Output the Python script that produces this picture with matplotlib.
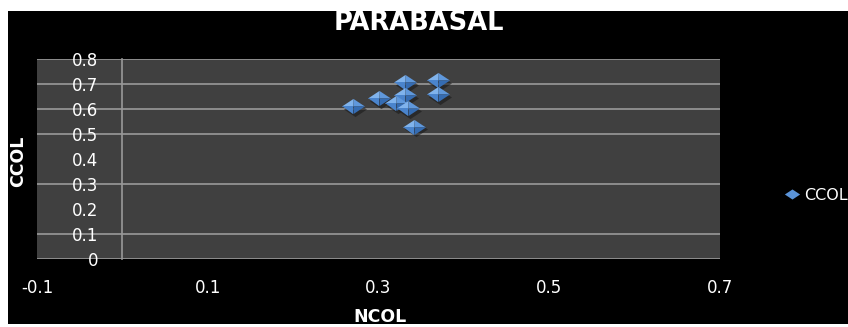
import matplotlib
matplotlib.use("Agg")
import matplotlib.pyplot as plt
import matplotlib.transforms as mtransforms
from matplotlib.path import Path
from matplotlib.lines import Line2D
from matplotlib.patches import Rectangle

# NCOL / CCOL measurements for the parabasal cells
ncol = [0.270, 0.301, 0.331, 0.370, 0.370, 0.331, 0.321, 0.335, 0.341]
ccol = [0.613, 0.644, 0.708, 0.717, 0.660, 0.657, 0.624, 0.604, 0.530]

x_ticks = [-0.1, 0.1, 0.3, 0.5, 0.7]
x_tick_labels = ["-0.1", "0.1", "0.3", "0.5", "0.7"]
y_ticks = [0, 0.1, 0.2, 0.3, 0.4, 0.5, 0.6, 0.7, 0.8]
y_tick_labels = ["0", "0.1", "0.2", "0.3", "0.4", "0.5", "0.6", "0.7", "0.8"]

title = "PARABASAL"
x_label = "NCOL"
y_label = "CCOL"
series_name = "CCOL"

W, H = 848, 327
fig = plt.figure(figsize=(W / 100, H / 100), dpi=100, facecolor="white")

# black chart area with thin white margins
fig.patches.append(Rectangle((8 / W, 3 / H), 1 - 8 / W, 1 - 14 / H,
                             transform=fig.transFigure, facecolor="black",
                             edgecolor="none", zorder=-10))

left, right, top, bottom = 37, 720, 59.3, 259.3
ax = fig.add_axes([left / W, 1 - bottom / H, (right - left) / W, (bottom - top) / H])
ax.set_zorder(1)
ax.set_facecolor("#404040")
ax.set_xlim(-0.1, 0.7)
ax.set_ylim(0, 0.8)

grid_col = "#999999"
for yv in [0, 0.1, 0.3, 0.5, 0.6, 0.7, 0.8]:
    ax.axhline(yv, color=grid_col, lw=1.2, zorder=1)
for s in ["top", "right", "bottom"]:
    ax.spines[s].set_visible(False)
ax.spines["left"].set_position(("data", 0))
ax.spines["left"].set_color(grid_col)
ax.spines["left"].set_linewidth(1.2)

ax.set_xticks(x_ticks)
ax.set_xticklabels(x_tick_labels)
ax.set_yticks(y_ticks)
ax.set_yticklabels(y_tick_labels)
ax.tick_params(axis="x", length=0, pad=14.5, colors="white", labelsize=12)
ax.tick_params(axis="y", length=0, pad=17.5, colors="white", labelsize=12)
for lab in ax.get_xticklabels() + ax.get_yticklabels():
    lab.set_family("DejaVu Sans")

# bevelled diamond marker built from four facets around a raised centre
h = 0.66
facets = [
    ([(-1, 0), (0, h), (0, 0), (-1, 0)], "#80b3ec"),
    ([(0, 0), (0, h), (1, 0), (0, 0)], "#5f98dc"),
    ([(-1, 0), (0, 0), (0, -h), (-1, 0)], "#4a84cc"),
    ([(0, 0), (1, 0), (0, -h), (0, 0)], "#356cb2"),
]
codes = [Path.MOVETO, Path.LINETO, Path.LINETO, Path.CLOSEPOLY]
full = Path([(-1, 0), (0, h), (1, 0), (0, -h), (-1, 0)],
            [Path.MOVETO, Path.LINETO, Path.LINETO, Path.LINETO, Path.CLOSEPOLY])
msize = 16.5

shadow_tr = mtransforms.offset_copy(ax.transData, fig=fig, x=2, y=-2.5, units="dots")
ax.plot(ncol, ccol, ls="none", marker=full, markersize=msize, color="#1a1a1a",
        alpha=0.6, markeredgewidth=0, transform=shadow_tr, zorder=3)
for i in range(len(ncol)):
    for verts, col in facets:
        ax.plot([ncol[i]], [ccol[i]], ls="none", marker=Path(verts, codes),
                markersize=msize, color=col, markeredgewidth=0, zorder=4 + i)

fig.text(419 / W, 1 - 30 / H, title, color="white", fontsize=18.5, fontweight="bold",
         family="DejaVu Sans", ha="center", va="baseline")
fig.text(380 / W, 1 - 322 / H, x_label, color="white", fontsize=12.5, fontweight="bold",
         family="DejaVu Sans", ha="center", va="baseline")
fig.text(18 / W, 1 - 161 / H, y_label, color="white", fontsize=12.5, fontweight="bold",
         family="DejaVu Sans", ha="center", va="center", rotation=90)

handle = Line2D([], [], ls="none", marker=full, markersize=11, color="#5a93d8",
                markeredgewidth=0)
leg = fig.legend([handle], [series_name], loc="center left",
                 bbox_to_anchor=(768 / W, 1 - 195 / H), frameon=False,
                 handletextpad=0.15, handlelength=1.2,
                 prop={"family": "DejaVu Sans", "size": 11.5})
for t in leg.get_texts():
    t.set_color("white")

fig.savefig("out.png", dpi=100, facecolor=fig.get_facecolor())
